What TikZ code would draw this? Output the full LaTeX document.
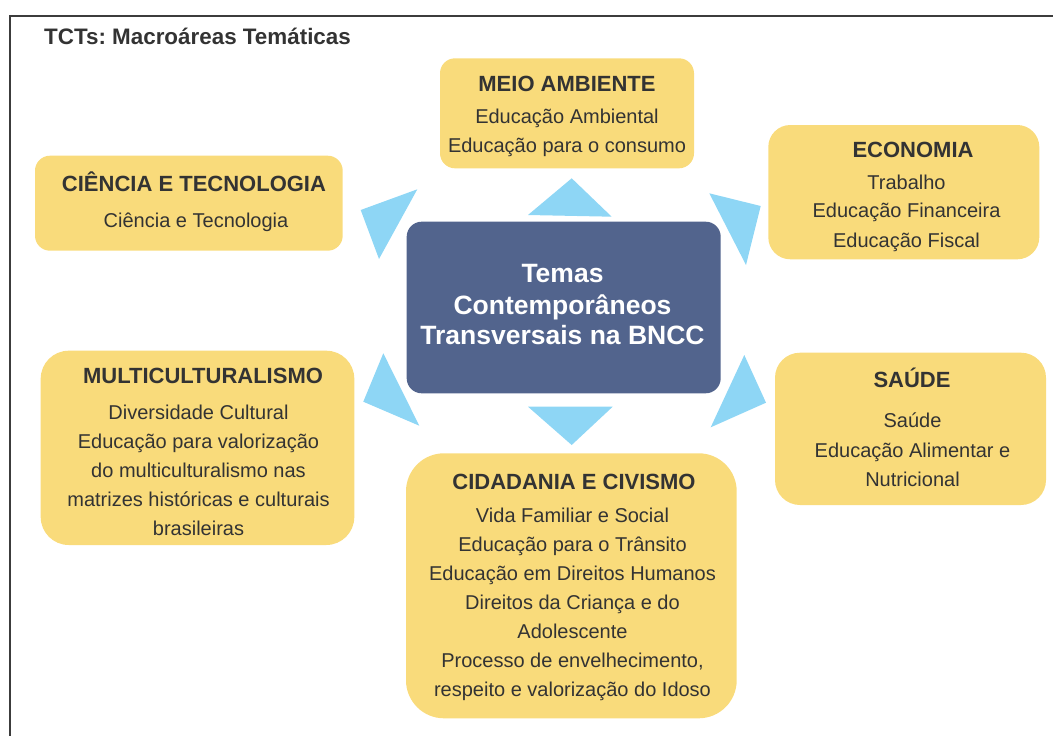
\documentclass[tikz,border=0pt]{standalone}
\usepackage{fontspec}
\setmainfont{Liberation Sans}
\frenchspacing
\definecolor{boxyellow}{HTML}{F9DB7B}
\definecolor{triblue}{HTML}{8ED6F5}
\definecolor{centerblue}{HTML}{52648D}
\definecolor{txtgray}{HTML}{333333}
\definecolor{framegray}{HTML}{3C3C3C}
\tikzset{
  ybox/.style={fill=boxyellow, inner sep=0pt},
  cbox/.style={fill=centerblue, inner sep=0pt, rounded corners=15pt},
  tri/.style={fill=triblue},
  frameline/.style={draw=framegray, line width=2pt},
  txtline/.style={inner sep=0pt, text depth=0pt, text=txtgray},
  head/.style={txtline, text height=15.8pt, font=\fontsize{22}{26}\selectfont\bfseries},
  body/.style={txtline, text height=14.3pt, font=\fontsize{20}{24}\selectfont},
  ctext/.style={inner sep=0pt, text height=19pt, text depth=0pt, text=white, font=\fontsize{26.5}{31}\selectfont\bfseries},
  titletext/.style={txtline, text height=16pt, anchor=west, font=\fontsize{22.4}{26}\selectfont\bfseries}
}
\begin{document}
\begin{tikzpicture}[x=1pt,y=-1pt]
\useasboundingbox (0,0) rectangle (1053,736);
\draw[frameline] (1054,16) -- (10,16) -- (10,737);
\node[titletext] (title) at (44,36) {TCTs: Macroáreas Temáticas};

% boxes
\node[ybox, minimum width=254pt, minimum height=110pt, rounded corners=15pt] (meio) at (567,113.3) {};
\node[ybox, minimum width=307.7pt, minimum height=95pt, rounded corners=15pt] (ciencia) at (188.85,203.2) {};
\node[ybox, minimum width=271pt, minimum height=134.3pt, rounded corners=22pt] (econ) at (903.8,192.15) {};
\node[ybox, minimum width=313.6pt, minimum height=194.3pt, rounded corners=28pt] (multi) at (197.5,447.85) {};
\node[ybox, minimum width=271pt, minimum height=152.3pt, rounded corners=25pt] (saude) at (910.5,428.85) {};
\node[ybox, minimum width=330.7pt, minimum height=265pt, rounded corners=38pt] (cid) at (571.35,585.8) {};
\node[cbox, minimum width=314pt, minimum height=171.6pt] (center) at (563.7,307.5) {};

% triangles
\fill[tri] (571.7,178.3) -- (528,215) -- (611.7,216.7) -- cycle;
\fill[tri] (360.7,210) -- (417.3,189.3) -- (379,259) -- cycle;
\fill[tri] (709.3,193.3) -- (760.7,206) -- (746,265) -- cycle;
\fill[tri] (744.3,355) -- (766,402.7) -- (710.7,427.3) -- cycle;
\fill[tri] (528,406.7) -- (612.7,406.7) -- (571.7,445) -- cycle;
\fill[tri] (383.3,353.3) -- (363.3,401.7) -- (419.3,425.7) -- cycle;

% center text
\node[ctext] (c1) at (562.5,273.3) {Temas};
\node[ctext] (c2) at (562.5,304.5) {Contemporâneos};
\node[ctext] (c3) at (562.5,334.5) {Transversais na BNCC};

% meio ambiente
\node[head] (meio-h) at (567,83.7) {MEIO AMBIENTE};
\node[body] (meio-1) at (567,116) {Educação Ambiental};
\node[body] (meio-2) at (567,145) {Educação para o consumo};

% ciencia
\node[head] (ciencia-h) at (194,184) {CIÊNCIA E TECNOLOGIA};
\node[body] (ciencia-1) at (196,220.7) {Ciência e Tecnologia};

% economia
\node[head] (econ-h) at (913,150) {ECONOMIA};
\node[body] (econ-1) at (906.5,182.7) {Trabalho};
\node[body] (econ-2) at (906.5,210.7) {Educação Financeira};
\node[body] (econ-3) at (906.5,240) {Educação Fiscal};

% multiculturalismo
\node[head] (multi-h) at (203,376) {MULTICULTURALISMO};
\node[body] (multi-1) at (198.5,412.7) {Diversidade Cultural};
\node[body] (multi-2) at (198.5,441) {Educação para valorização};
\node[body] (multi-3) at (198.5,470) {do multiculturalismo nas};
\node[body] (multi-4) at (198.5,499) {matrizes históricas e culturais};
\node[body] (multi-5) at (198.5,528.3) {brasileiras};

% saude
\node[head] (saude-h) at (912,380) {SAÚDE};
\node[body] (saude-1) at (912.5,420.7) {Saúde};
\node[body] (saude-2) at (912.5,450.7) {Educação Alimentar e};
\node[body] (saude-3) at (912.5,479.3) {Nutricional};

% cidadania
\node[head] (cid-h) at (574,481.7) {CIDADANIA E CIVISMO};
\node[body] (cid-1) at (572.5,515) {Vida Familiar e Social};
\node[body] (cid-2) at (572.5,544) {Educação para o Trânsito};
\node[body] (cid-3) at (572.5,573.3) {Educação em Direitos Humanos};
\node[body] (cid-4) at (572.5,602.7) {Direitos da Criança e do};
\node[body] (cid-5) at (572.5,631.7) {Adolescente};
\node[body] (cid-6) at (572.5,660) {Processo de envelhecimento,};
\node[body] (cid-7) at (572.5,689.3) {respeito e valorização do Idoso};
\end{tikzpicture}
\end{document}
